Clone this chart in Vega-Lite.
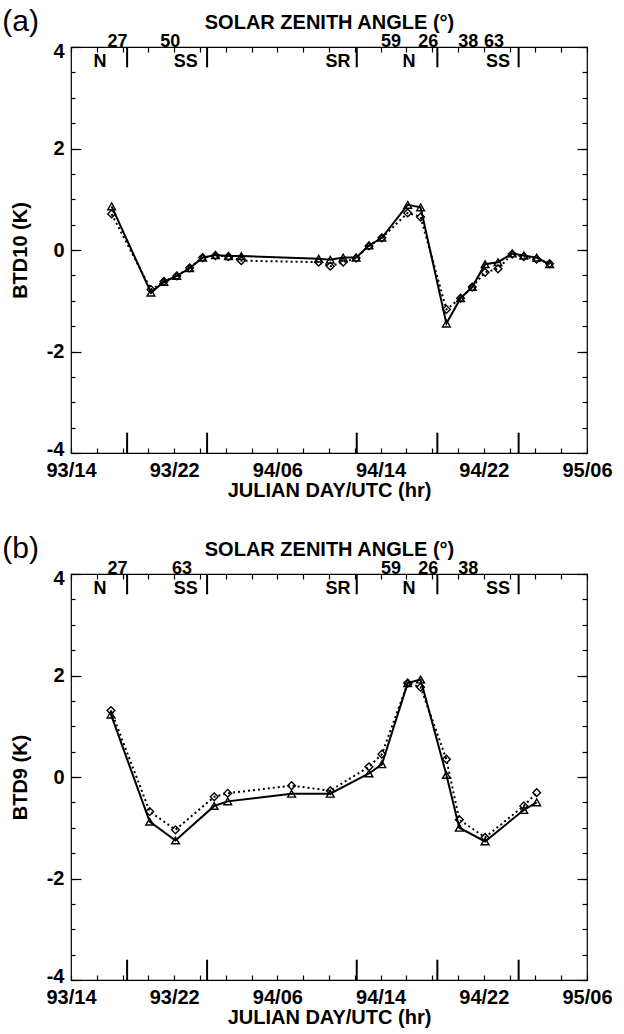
{
  "$schema": "https://vega.github.io/schema/vega-lite/v6.json",
  "background": "white",
  "padding": {"left": 1, "top": 6, "right": 5, "bottom": 5},
  "config": {
    "font": "Liberation Sans",
    "view": {"stroke": "black", "strokeWidth": 1.2},
    "axis": {
      "grid": false,
      "domain": false,
      "labelFont": "Liberation Sans",
      "labelFontWeight": "bold",
      "labelFontSize": 20,
      "labelColor": "black",
      "titleFont": "Liberation Sans",
      "titleFontWeight": "bold",
      "titleFontSize": 20,
      "titleColor": "black",
      "tickColor": "black",
      "tickWidth": 1.2,
      "minExtent": 0
    },
    "title": {"font": "Liberation Sans", "fontWeight": "normal", "fontSize": 30, "color": "black"}
  },
  "datasets": {
    "btd10": [
      {"t": 17.15, "series": "S1", "btd": 0.86}, {"t": 17.15, "series": "S2", "btd": 0.71},
      {"t": 20.2, "series": "S1", "btd": -0.84}, {"t": 20.2, "series": "S2", "btd": -0.78},
      {"t": 21.2, "series": "S1", "btd": -0.63}, {"t": 21.2, "series": "S2", "btd": -0.62},
      {"t": 22.2, "series": "S1", "btd": -0.51}, {"t": 22.2, "series": "S2", "btd": -0.51},
      {"t": 23.2, "series": "S1", "btd": -0.36}, {"t": 23.2, "series": "S2", "btd": -0.35},
      {"t": 24.2, "series": "S1", "btd": -0.15}, {"t": 24.2, "series": "S2", "btd": -0.15},
      {"t": 25.2, "series": "S1", "btd": -0.10}, {"t": 25.2, "series": "S2", "btd": -0.11},
      {"t": 26.2, "series": "S1", "btd": -0.12}, {"t": 26.2, "series": "S2", "btd": -0.13},
      {"t": 27.2, "series": "S1", "btd": -0.12}, {"t": 27.2, "series": "S2", "btd": -0.21},
      {"t": 33.2, "series": "S1", "btd": -0.17}, {"t": 33.2, "series": "S2", "btd": -0.24},
      {"t": 34.1, "series": "S1", "btd": -0.19}, {"t": 34.1, "series": "S2", "btd": -0.32},
      {"t": 35.1, "series": "S1", "btd": -0.15}, {"t": 35.1, "series": "S2", "btd": -0.24},
      {"t": 36.1, "series": "S1", "btd": -0.15}, {"t": 36.1, "series": "S2", "btd": -0.16},
      {"t": 37.1, "series": "S1", "btd": 0.09}, {"t": 37.1, "series": "S2", "btd": 0.08},
      {"t": 38.1, "series": "S1", "btd": 0.24}, {"t": 38.1, "series": "S2", "btd": 0.24},
      {"t": 40.1, "series": "S1", "btd": 0.89}, {"t": 40.1, "series": "S2", "btd": 0.73},
      {"t": 41.1, "series": "S1", "btd": 0.84}, {"t": 41.1, "series": "S2", "btd": 0.65},
      {"t": 43.1, "series": "S1", "btd": -1.45}, {"t": 43.1, "series": "S2", "btd": -1.17},
      {"t": 44.2, "series": "S1", "btd": -0.95}, {"t": 44.2, "series": "S2", "btd": -0.95},
      {"t": 45.1, "series": "S1", "btd": -0.73}, {"t": 45.1, "series": "S2", "btd": -0.73},
      {"t": 46.1, "series": "S1", "btd": -0.28}, {"t": 46.1, "series": "S2", "btd": -0.44},
      {"t": 47.1, "series": "S1", "btd": -0.24}, {"t": 47.1, "series": "S2", "btd": -0.37},
      {"t": 48.2, "series": "S1", "btd": -0.07}, {"t": 48.2, "series": "S2", "btd": -0.08},
      {"t": 49.1, "series": "S1", "btd": -0.11}, {"t": 49.1, "series": "S2", "btd": -0.13},
      {"t": 50.1, "series": "S1", "btd": -0.15}, {"t": 50.1, "series": "S2", "btd": -0.18},
      {"t": 51.1, "series": "S1", "btd": -0.28}, {"t": 51.1, "series": "S2", "btd": -0.27}
    ],
    "btd9": [
      {"t": 17.1, "series": "S1", "btd": 1.23}, {"t": 17.1, "series": "S2", "btd": 1.31},
      {"t": 20.1, "series": "S1", "btd": -0.88}, {"t": 20.1, "series": "S2", "btd": -0.68},
      {"t": 22.1, "series": "S1", "btd": -1.25}, {"t": 22.1, "series": "S2", "btd": -1.04},
      {"t": 25.1, "series": "S1", "btd": -0.57}, {"t": 25.1, "series": "S2", "btd": -0.39},
      {"t": 26.15, "series": "S1", "btd": -0.48}, {"t": 26.15, "series": "S2", "btd": -0.32},
      {"t": 31.1, "series": "S1", "btd": -0.33}, {"t": 31.1, "series": "S2", "btd": -0.17},
      {"t": 34.1, "series": "S1", "btd": -0.33}, {"t": 34.1, "series": "S2", "btd": -0.27},
      {"t": 37.1, "series": "S1", "btd": 0.07}, {"t": 37.1, "series": "S2", "btd": 0.20},
      {"t": 38.1, "series": "S1", "btd": 0.25}, {"t": 38.1, "series": "S2", "btd": 0.45},
      {"t": 40.1, "series": "S1", "btd": 1.85}, {"t": 40.1, "series": "S2", "btd": 1.85},
      {"t": 41.1, "series": "S1", "btd": 1.92}, {"t": 41.1, "series": "S2", "btd": 1.77},
      {"t": 43.1, "series": "S1", "btd": 0.04}, {"t": 43.1, "series": "S2", "btd": 0.35},
      {"t": 44.1, "series": "S1", "btd": -1.0}, {"t": 44.1, "series": "S2", "btd": -0.84},
      {"t": 46.1, "series": "S1", "btd": -1.27}, {"t": 46.1, "series": "S2", "btd": -1.19},
      {"t": 49.1, "series": "S1", "btd": -0.65}, {"t": 49.1, "series": "S2", "btd": -0.57},
      {"t": 50.1, "series": "S1", "btd": -0.50}, {"t": 50.1, "series": "S2", "btd": -0.31}
    ],
    "transitions": [{"t": 18.35}, {"t": 24.55}, {"t": 36.15}, {"t": 42.4}, {"t": 48.7}],
    "phases": [
      {"t": 16.25, "phase": "N"}, {"t": 22.9, "phase": "SS"}, {"t": 34.7, "phase": "SR"},
      {"t": 40.2, "phase": "N"}, {"t": 47.1, "phase": "SS"}
    ],
    "sza10": [
      {"t": 17.6, "sza": 27}, {"t": 21.7, "sza": 50}, {"t": 38.8, "sza": 59},
      {"t": 41.7, "sza": 26}, {"t": 44.8, "sza": 38}, {"t": 46.8, "sza": 63}
    ],
    "sza9": [
      {"t": 17.6, "sza": 27}, {"t": 22.6, "sza": 63}, {"t": 38.8, "sza": 59},
      {"t": 41.7, "sza": 26}, {"t": 44.8, "sza": 38}
    ]
  },
  "bounds": "flush",
  "spacing": 121,
  "vconcat": [
    {
      "width": 516,
      "height": 406,
      "title": {"text": "(a)", "anchor": "start", "frame": "bounds", "offset": -25, "dx": -8},
      "resolve": {"axis": {"x": "independent", "y": "independent"}},
      "layer": [
        {
          "data": {"name": "btd10"},
          "transform": [{"filter": "datum.series === 'S1'"}],
          "mark": {"type": "line", "color": "black", "strokeWidth": 2},
          "encoding": {
            "x": {"field": "t", "type": "quantitative", "scale": {"domain": [14, 54], "nice": false, "zero": false},
              "axis": {"orient": "bottom", "values": [14, 22, 30, 38, 46, 54], "ticks": false, "labelPadding": 7, "labelFlush": false,
                "labelExpr": "(93 + floor(datum.value / 24)) + '/' + (datum.value % 24 < 10 ? '0' : '') + (datum.value % 24)",
                "title": "JULIAN DAY/UTC (hr)", "titlePadding": 0}},
            "y": {"field": "btd", "type": "quantitative", "scale": {"domain": [-4, 4], "nice": false, "zero": false},
              "axis": {"orient": "left", "values": [-4, -2, 0, 2, 4], "ticks": false, "labelPadding": 7, "labelExpr": "'' + datum.value",
                "labelFlush": true, "labelFlushOffset": 6, "title": "BTD10 (K)", "titlePadding": 16}}
          }
        },
        {
          "data": {"name": "btd10"},
          "transform": [{"filter": "datum.series === 'S2'"}],
          "mark": {"type": "line", "color": "black", "strokeWidth": 2, "strokeDash": [2, 3]},
          "encoding": {
            "x": {"field": "t", "type": "quantitative",
              "axis": {"orient": "bottom", "values": [14,16,18,20,22,24,26,28,30,32,34,36,38,40,42,44,46,48,50,52,54], "labels": false, "tickSize": -5, "title": null}},
            "y": {"field": "btd", "type": "quantitative",
              "axis": {"orient": "left", "values": [-4,-3.5,-3,-2.5,-2,-1.5,-1,-0.5,0,0.5,1,1.5,2,2.5,3,3.5,4], "labels": false, "tickSize": -4, "title": null}}
          }
        },
        {
          "data": {"name": "btd10"},
          "transform": [{"filter": "datum.series === 'S1'"}],
          "mark": {"type": "point", "shape": "triangle-up", "filled": false, "color": "black", "strokeWidth": 1.4, "size": 60, "opacity": 1},
          "encoding": {
            "x": {"field": "t", "type": "quantitative",
              "axis": {"orient": "top", "values": [14,16,18,20,22,24,26,28,30,32,34,36,38,40,42,44,46,48,50,52,54], "labels": false, "tickSize": -5,
                "title": "SOLAR ZENITH ANGLE (°)", "titlePadding": 14}},
            "y": {"field": "btd", "type": "quantitative",
              "axis": {"orient": "right", "values": [-4,-3.5,-3,-2.5,-2,-1.5,-1,-0.5,0,0.5,1,1.5,2,2.5,3,3.5,4], "labels": false, "tickSize": -5, "title": null}}
          }
        },
        {
          "data": {"name": "btd10"},
          "transform": [{"filter": "datum.series === 'S2'"}],
          "mark": {"type": "point", "shape": "diamond", "filled": false, "color": "black", "strokeWidth": 1.4, "size": 60, "opacity": 1},
          "encoding": {
            "x": {"field": "t", "type": "quantitative", "axis": null},
            "y": {"field": "btd", "type": "quantitative",
              "axis": {"orient": "left", "values": [-4, -2, 0, 2, 4], "labels": false, "tickSize": -10, "title": null}}
          }
        },
        {
          "data": {"name": "transitions"},
          "mark": {"type": "rule", "color": "black", "strokeWidth": 2},
          "encoding": {
            "x": {"field": "t", "type": "quantitative", "axis": null},
            "y": {"datum": 4, "axis": {"orient": "right", "values": [-4, -2, 0, 2, 4], "labels": false, "tickSize": -10, "title": null}},
            "y2": {"datum": 3.6}
          }
        },
        {
          "data": {"name": "transitions"},
          "mark": {"type": "rule", "color": "black", "strokeWidth": 2},
          "encoding": {
            "x": {"field": "t", "type": "quantitative", "axis": null},
            "y": {"datum": -4, "axis": null},
            "y2": {"datum": -3.6}
          }
        },
        {
          "data": {"name": "phases"},
          "mark": {"type": "text", "font": "Liberation Sans", "fontWeight": "bold", "fontSize": 18, "baseline": "middle", "color": "black"},
          "encoding": {
            "x": {"field": "t", "type": "quantitative", "axis": null},
            "y": {"datum": 3.71, "axis": null},
            "text": {"field": "phase"}
          }
        },
        {
          "data": {"name": "sza10"},
          "mark": {"type": "text", "font": "Liberation Sans", "fontWeight": "bold", "fontSize": 18, "baseline": "alphabetic", "dy": 0, "color": "black"},
          "encoding": {
            "x": {"field": "t", "type": "quantitative", "axis": null},
            "y": {"datum": 4, "axis": null},
            "text": {"field": "sza", "type": "quantitative", "format": "d"}
          }
        }
      ]
    },
    {
      "width": 516,
      "height": 406,
      "title": {"text": "(b)", "anchor": "start", "frame": "bounds", "offset": -25, "dx": -8},
      "resolve": {"axis": {"x": "independent", "y": "independent"}},
      "layer": [
        {
          "data": {"name": "btd9"},
          "transform": [{"filter": "datum.series === 'S1'"}],
          "mark": {"type": "line", "color": "black", "strokeWidth": 2},
          "encoding": {
            "x": {"field": "t", "type": "quantitative", "scale": {"domain": [14, 54], "nice": false, "zero": false},
              "axis": {"orient": "bottom", "values": [14, 22, 30, 38, 46, 54], "ticks": false, "labelPadding": 7, "labelFlush": false,
                "labelExpr": "(93 + floor(datum.value / 24)) + '/' + (datum.value % 24 < 10 ? '0' : '') + (datum.value % 24)",
                "title": "JULIAN DAY/UTC (hr)", "titlePadding": 0}},
            "y": {"field": "btd", "type": "quantitative", "scale": {"domain": [-4, 4], "nice": false, "zero": false},
              "axis": {"orient": "left", "values": [-4, -2, 0, 2, 4], "ticks": false, "labelPadding": 7, "labelExpr": "'' + datum.value",
                "labelFlush": true, "labelFlushOffset": 6, "title": "BTD9 (K)", "titlePadding": 16}}
          }
        },
        {
          "data": {"name": "btd9"},
          "transform": [{"filter": "datum.series === 'S2'"}],
          "mark": {"type": "line", "color": "black", "strokeWidth": 2, "strokeDash": [2, 3]},
          "encoding": {
            "x": {"field": "t", "type": "quantitative",
              "axis": {"orient": "bottom", "values": [14,16,18,20,22,24,26,28,30,32,34,36,38,40,42,44,46,48,50,52,54], "labels": false, "tickSize": -5, "title": null}},
            "y": {"field": "btd", "type": "quantitative",
              "axis": {"orient": "left", "values": [-4,-3.5,-3,-2.5,-2,-1.5,-1,-0.5,0,0.5,1,1.5,2,2.5,3,3.5,4], "labels": false, "tickSize": -4, "title": null}}
          }
        },
        {
          "data": {"name": "btd9"},
          "transform": [{"filter": "datum.series === 'S1'"}],
          "mark": {"type": "point", "shape": "triangle-up", "filled": false, "color": "black", "strokeWidth": 1.4, "size": 60, "opacity": 1},
          "encoding": {
            "x": {"field": "t", "type": "quantitative",
              "axis": {"orient": "top", "values": [14,16,18,20,22,24,26,28,30,32,34,36,38,40,42,44,46,48,50,52,54], "labels": false, "tickSize": -5,
                "title": "SOLAR ZENITH ANGLE (°)", "titlePadding": 14}},
            "y": {"field": "btd", "type": "quantitative",
              "axis": {"orient": "right", "values": [-4,-3.5,-3,-2.5,-2,-1.5,-1,-0.5,0,0.5,1,1.5,2,2.5,3,3.5,4], "labels": false, "tickSize": -5, "title": null}}
          }
        },
        {
          "data": {"name": "btd9"},
          "transform": [{"filter": "datum.series === 'S2'"}],
          "mark": {"type": "point", "shape": "diamond", "filled": false, "color": "black", "strokeWidth": 1.4, "size": 60, "opacity": 1},
          "encoding": {
            "x": {"field": "t", "type": "quantitative", "axis": null},
            "y": {"field": "btd", "type": "quantitative",
              "axis": {"orient": "left", "values": [-4, -2, 0, 2, 4], "labels": false, "tickSize": -10, "title": null}}
          }
        },
        {
          "data": {"name": "transitions"},
          "mark": {"type": "rule", "color": "black", "strokeWidth": 2},
          "encoding": {
            "x": {"field": "t", "type": "quantitative", "axis": null},
            "y": {"datum": 4, "axis": {"orient": "right", "values": [-4, -2, 0, 2, 4], "labels": false, "tickSize": -10, "title": null}},
            "y2": {"datum": 3.6}
          }
        },
        {
          "data": {"name": "transitions"},
          "mark": {"type": "rule", "color": "black", "strokeWidth": 2},
          "encoding": {
            "x": {"field": "t", "type": "quantitative", "axis": null},
            "y": {"datum": -4, "axis": null},
            "y2": {"datum": -3.6}
          }
        },
        {
          "data": {"name": "phases"},
          "mark": {"type": "text", "font": "Liberation Sans", "fontWeight": "bold", "fontSize": 18, "baseline": "middle", "color": "black"},
          "encoding": {
            "x": {"field": "t", "type": "quantitative", "axis": null},
            "y": {"datum": 3.71, "axis": null},
            "text": {"field": "phase"}
          }
        },
        {
          "data": {"name": "sza9"},
          "mark": {"type": "text", "font": "Liberation Sans", "fontWeight": "bold", "fontSize": 18, "baseline": "alphabetic", "dy": 0, "color": "black"},
          "encoding": {
            "x": {"field": "t", "type": "quantitative", "axis": null},
            "y": {"datum": 4, "axis": null},
            "text": {"field": "sza", "type": "quantitative", "format": "d"}
          }
        }
      ]
    }
  ]
}
